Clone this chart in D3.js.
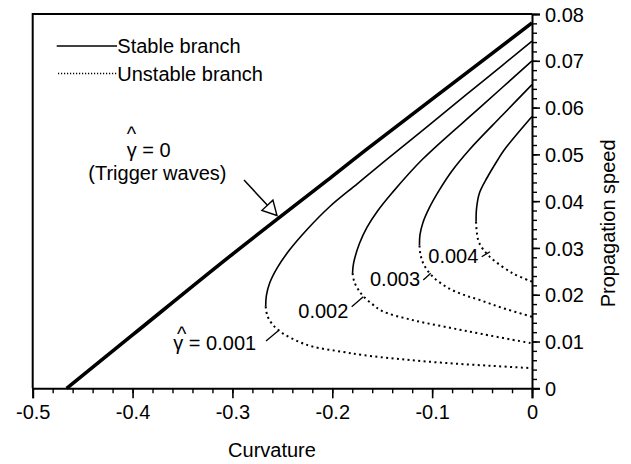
<!DOCTYPE html>
<html>
<head>
<meta charset="utf-8">
<script src="https://cdn.jsdelivr.net/npm/d3@7"></script>
<style>
  html, body { margin: 0; padding: 0; background: #fff; }
  svg { display: block; }
  text { font-family: "Liberation Sans", Arial, Helvetica, sans-serif; fill: #000; }
</style>
</head>
<body>
<svg id="chart" width="631" height="464"></svg>
<script>
// Front propagation speed versus curvature for several values of gamma-hat.
const xTicks = [-0.5, -0.4, -0.3, -0.2, -0.1, 0];
const yTicks = [0, 0.01, 0.02, 0.03, 0.04, 0.05, 0.06, 0.07, 0.08];
const gammaLabels = ["0.001", "0.002", "0.003", "0.004"];

// gamma-hat = 0 (trigger waves)
const triggerWave = [[-0.466, 0], [-0.4, 0.0114], [-0.3027, 0.0282], [-0.2, 0.0453],
  [-0.166, 0.051], [-0.1, 0.0618], [0, 0.0781]];

// stable branches, from curvature 0 down to the turning point
const stable001 = [[0, 0.0742], [-0.05, 0.0655], [-0.1, 0.0568], [-0.146, 0.0488], [-0.175, 0.0437],
  [-0.2027, 0.0388], [-0.225, 0.034], [-0.2427, 0.0296], [-0.255, 0.0258], [-0.2627, 0.0225],
  [-0.266, 0.0198], [-0.2667, 0.0175]];
const stable002 = [[0, 0.07], [-0.05, 0.0604], [-0.1094, 0.049], [-0.14, 0.0418], [-0.155, 0.0378],
  [-0.165, 0.0345], [-0.1727, 0.031], [-0.1787, 0.0267], [-0.1797, 0.0246]];
const stable003 = [[0, 0.0649], [-0.03, 0.0583], [-0.0627, 0.051], [-0.08, 0.0465], [-0.0927, 0.0424],
  [-0.103, 0.0385], [-0.1094, 0.0353], [-0.1122, 0.0328], [-0.1127, 0.0305]];
const stable004 = [[0, 0.0581], [-0.0277, 0.051], [-0.0344, 0.0488], [-0.045, 0.045], [-0.0527, 0.0417],
  [-0.0555, 0.0385], [-0.056, 0.0356]];

// unstable branches, from the turning point back to curvature 0
const unstable001 = [[-0.2667, 0.0175], [-0.265, 0.0155], [-0.26, 0.0137], [-0.25, 0.0118], [-0.235, 0.0101],
  [-0.2194, 0.0089], [-0.19, 0.0078], [-0.1694, 0.0071], [-0.13, 0.0062], [-0.086, 0.0054],
  [-0.04, 0.0048], [0, 0.0043]];
const unstable002 = [[-0.1797, 0.0246], [-0.178, 0.0228], [-0.174, 0.0211], [-0.1694, 0.0198], [-0.16, 0.018],
  [-0.15, 0.0165], [-0.12, 0.0146], [-0.086, 0.0131], [-0.05, 0.0116], [0, 0.0096]];
const unstable003 = [[-0.1127, 0.0305], [-0.1115, 0.0284], [-0.108, 0.0263], [-0.1, 0.024], [-0.086, 0.0217],
  [-0.07, 0.0201], [-0.0527, 0.0189], [-0.03, 0.0172], [0, 0.0153]];
const unstable004 = [[-0.056, 0.0356], [-0.0552, 0.0332], [-0.0527, 0.031], [-0.0427, 0.0282],
  [-0.0194, 0.0246], [0, 0.0228]];

const svg = d3.select("#chart");
const plotL = 32.7, plotR = 532, plotT = 14, plotB = 388.3;
const x = d3.scaleLinear().domain([-0.5, 0]).range([plotL, plotR]);
const y = d3.scaleLinear().domain([0, 0.08]).range([plotB, plotT]);

// frame: left and top edges
svg.append("path")
  .attr("d", `M${plotL},${plotB}V${plotT}H${plotR}`)
  .attr("fill", "none").attr("stroke", "#000").attr("stroke-width", 2);

// bottom axis: minor ticks every 0.02, major ticks every 0.1
const xMinor = d3.range(-0.5, 0.0001, 0.02).map(v => +v.toFixed(2));
svg.append("g").attr("transform", `translate(0,${plotB})`)
  .call(d3.axisBottom(x).tickValues(xMinor).tickSize(5).tickFormat(""))
  .call(g => g.select(".domain").remove())
  .selectAll("line").attr("stroke-width", 1.4);
const xAxis = svg.append("g").attr("transform", `translate(0,${plotB})`)
  .call(d3.axisBottom(x).tickValues(xTicks).tickSize(10).tickPadding(7)
    .tickFormat(d => d === 0 ? "0" : d.toFixed(1)));
xAxis.select(".domain").attr("stroke-width", 2);
xAxis.selectAll("line").attr("stroke-width", 1.6);
xAxis.selectAll("text").attr("font-size", 20)
  .attr("font-family", "'Liberation Sans', Arial, sans-serif")
  .attr("y", 31).attr("dy", 0);

// right axis
const yMinor = d3.range(0, 0.0801, 0.002).map(v => +v.toFixed(3));
svg.append("g").attr("transform", `translate(${plotR},0)`)
  .call(d3.axisRight(y).tickValues(yMinor).tickSize(5).tickFormat(""))
  .call(g => g.select(".domain").remove())
  .selectAll("line").attr("stroke-width", 1.4);
const yAxis = svg.append("g").attr("transform", `translate(${plotR},0)`)
  .call(d3.axisRight(y).tickValues(yTicks).tickSize(8).tickPadding(5)
    .tickFormat(d => d === 0 ? "0" : d.toFixed(2)));
yAxis.select(".domain").attr("stroke-width", 2);
yAxis.selectAll("line").attr("stroke-width", 1.6);
yAxis.selectAll("text").attr("font-size", 20)
  .attr("font-family", "'Liberation Sans', Arial, sans-serif")
  .attr("dy", "0.36em");

// axis titles
svg.append("text").attr("x", 272).attr("y", 456.7).attr("text-anchor", "middle")
  .attr("font-size", 20).text("Curvature");
svg.append("text").attr("transform", "translate(615,223.4) rotate(-90)")
  .attr("text-anchor", "middle").attr("font-size", 20).text("Propagation speed");

// curves
const line = d3.line().x(d => x(d[0])).y(d => y(d[1])).curve(d3.curveCatmullRom.alpha(0.5));
const curves = svg.append("g").attr("fill", "none").attr("stroke", "#000");
curves.append("path").attr("d", line(triggerWave)).attr("stroke-width", 3.6);
[stable001, stable002, stable003, stable004].forEach(s =>
  curves.append("path").attr("d", line(s)).attr("stroke-width", 1.6));
[unstable001, unstable002, unstable003, unstable004].forEach(s =>
  curves.append("path").attr("d", line(s)).attr("stroke-width", 2)
    .attr("stroke-dasharray", "2,3.4"));

// legend
const legend = svg.append("g");
legend.append("line").attr("x1", 56.7).attr("x2", 117).attr("y1", 46).attr("y2", 46)
  .attr("stroke", "#000").attr("stroke-width", 1.4);
legend.append("text").attr("x", 117.3).attr("y", 53).attr("font-size", 20).text("Stable branch");
legend.append("line").attr("x1", 58).attr("x2", 117).attr("y1", 73.5).attr("y2", 73.5)
  .attr("stroke", "#000").attr("stroke-width", 1.3).attr("stroke-dasharray", "1.2,1.8");
legend.append("text").attr("x", 117.3).attr("y", 80.5).attr("font-size", 20).text("Unstable branch");

// gamma-hat label: one text node "^γ = ..." with the caret placed per glyph above the gamma
function gammaHatText(parent, hatX, hatY, textX, textY, rest) {
  return parent.append("text").attr("font-size", 20)
    .attr("x", `${hatX - 4.7} ${textX}`).attr("y", `${hatY} ${textY}`)
    .text("^\u03B3" + rest);
}

// trigger-wave annotation with hollow arrow head
const ann = svg.append("g");
gammaHatText(ann, 131.5, 141, 126.7, 156.7, " = 0");
ann.append("text").attr("x", 88.3).attr("y", 180).attr("font-size", 20).text("(Trigger waves)");
const tail = [x(-0.2884), y(0.04452)], tip = [x(-0.2554), y(0.03693)];
const dx = tip[0] - tail[0], dy = tip[1] - tail[1], len = Math.hypot(dx, dy);
const ux = dx / len, uy = dy / len, headL = 14, headW = 7.5;
const base = [tip[0] - ux * headL, tip[1] - uy * headL];
ann.append("line").attr("x1", tail[0]).attr("y1", tail[1]).attr("x2", base[0]).attr("y2", base[1])
  .attr("stroke", "#000").attr("stroke-width", 1.5);
ann.append("polygon")
  .attr("points", [tip, [base[0] - uy * headW, base[1] + ux * headW], [base[0] + uy * headW, base[1] - ux * headW]]
    .map(p => p.join(",")).join(" "))
  .attr("fill", "#fff").attr("stroke", "#000").attr("stroke-width", 1.4);

// gamma-hat level labels with leader lines
const labelSpecs = [
  { text: " = " + gammaLabels[0], x: 173.3, y: 350, hat: [181.7, 341], lead: [[266, 341], [278, 331]] },
  { text: gammaLabels[1], x: 298.3, y: 318.3, lead: [[351.7, 306.7], [363.3, 296.7]] },
  { text: gammaLabels[2], x: 370, y: 286, lead: [[423.3, 280], [430.7, 273.3]] },
  { text: gammaLabels[3], x: 428.3, y: 262.7, lead: [[481.7, 256.7], [490, 251.7]] }
];
labelSpecs.forEach(s => {
  if (s.hat) gammaHatText(svg, s.hat[0], s.hat[1], s.x, s.y, s.text);
  else svg.append("text").attr("x", s.x).attr("y", s.y).attr("font-size", 20).text(s.text);
  svg.append("line").attr("x1", s.lead[0][0]).attr("y1", s.lead[0][1])
    .attr("x2", s.lead[1][0]).attr("y2", s.lead[1][1])
    .attr("stroke", "#000").attr("stroke-width", 1.3);
});
</script>
</body>
</html>
